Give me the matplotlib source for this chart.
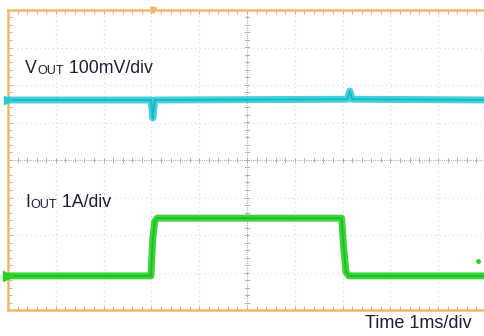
import matplotlib
matplotlib.use("Agg")
import matplotlib.pyplot as plt
import numpy as np

plt.rcParams['font.family'] = ['Liberation Sans', 'DejaVu Sans']

# Data (x in ms, 1 ms/div; y in divisions, centre = 0)
vout_t = [0.0, 2.99, 3.03, 3.07, 7.10, 7.15, 7.20, 10.2]
vout_v = [1.60, 1.60, 1.12, 1.60, 1.62, 1.84, 1.62, 1.60]
iout_t = [0.0, 2.99, 3.03, 3.07, 3.12, 6.98, 7.02, 7.07, 7.13, 10.2]
iout_v = [-3.09, -3.09, -2.10, -1.64, -1.55, -1.55, -2.30, -2.98, -3.09, -3.09]
trigger_t = 3.03
marker_pt = (9.83, -2.69)
labels = ["V", "OUT", " 100mV/div", "I", "OUT", " 1A/div"]
time_label = "Time 1ms/div"

CYAN = "#22cbd6"
GREEN = "#27d127"
ORANGE = "#f2b86a"
TEXTC = "#1e1e36"

fig = plt.figure(figsize=(4.85, 3.36), dpi=100)
ax = fig.add_axes([8/485, 26/336, 478/485, 300/336])
ax.set_xlim(0, 10)
ax.set_ylim(-4, 4)

# grid
for x in range(1, 10):
    if x == 5:
        continue
    ax.axvline(x, color="#d4d4d4", lw=0.8, ls=(0, (1, 3)), zorder=1)
for y in range(-3, 4):
    if y == 0:
        continue
    ax.axhline(y, color="#d4d4d4", lw=0.8, ls=(0, (1, 3)), zorder=1)
ax.axvline(5, color="#b0b0b0", lw=0.8, ls=(0, (1, 1)), zorder=1)
ax.axhline(0, color="#b0b0b0", lw=0.8, ls=(0, (1, 1)), zorder=1)
# centre crosshair ticks
for xv in np.arange(0.2, 10, 0.2):
    ax.plot([xv, xv], [-0.06, 0.06], color="#b0b0b0", lw=0.7, zorder=1)
for yv in np.arange(-3.8, 4, 0.2):
    ax.plot([4.95, 5.05], [yv, yv], color="#b0b0b0", lw=0.7, zorder=1)

# frame
for s in ax.spines.values():
    s.set_color(ORANGE)
    s.set_linewidth(1.8)
ax.spines['right'].set_visible(False)
ax.set_xticks(range(0, 11))
ax.set_yticks(range(-4, 5))
ax.set_xticks(np.arange(0, 10.01, 0.2), minor=True)
ax.set_yticks(np.arange(-4, 4.01, 0.2), minor=True)
ax.tick_params(which='both', direction='in', colors="#c8b090", length=3, width=0.7,
               top=True, bottom=True, left=True, right=False,
               labelbottom=False, labelleft=False)

# traces
ax.plot(vout_t, vout_v, color=CYAN, lw=5.0, alpha=0.85, zorder=3, solid_joinstyle='round')
ax.plot(vout_t, vout_v, color="#18b8c4", lw=1.4, zorder=4)
ax.plot(iout_t, iout_v, color=GREEN, lw=5.0, alpha=0.9, zorder=3, solid_joinstyle='round')
ax.plot(iout_t, iout_v, color="#1fbf1f", lw=1.4, zorder=4)
ax.plot([vout_t[0]], [vout_v[0]], marker='>', color=CYAN, ms=6, clip_on=False, zorder=5)
ax.plot([iout_t[0]], [iout_v[0]], marker='>', color=GREEN, ms=7, clip_on=False, zorder=5)
ax.plot([marker_pt[0]], [marker_pt[1]], marker='o', color=GREEN, ms=2.5, zorder=5)
ax.plot([trigger_t], [4], marker='v', color=ORANGE, ms=5, clip_on=False, zorder=5)

# labels with small-caps subscripts
def label(x, y, parts):
    t = ax.text(x, y, parts[0], fontsize=12.8, color=TEXTC, va='baseline', ha='left')
    t2 = ax.annotate(parts[1], xy=(1, 0), xycoords=t, fontsize=9, color=TEXTC,
                     va='bottom', ha='left')
    ax.annotate(parts[2], xy=(1, 0), xycoords=t2, fontsize=12.8, color=TEXTC,
                va='bottom', ha='left')

label(0.36, 2.33, labels[0:3])
label(0.36, -1.25, labels[3:6])

fig.text(472/485, 1 - 328/336, time_label, fontsize=13, color=TEXTC, ha='right', va='baseline')

fig.savefig("out.png", dpi=100)
